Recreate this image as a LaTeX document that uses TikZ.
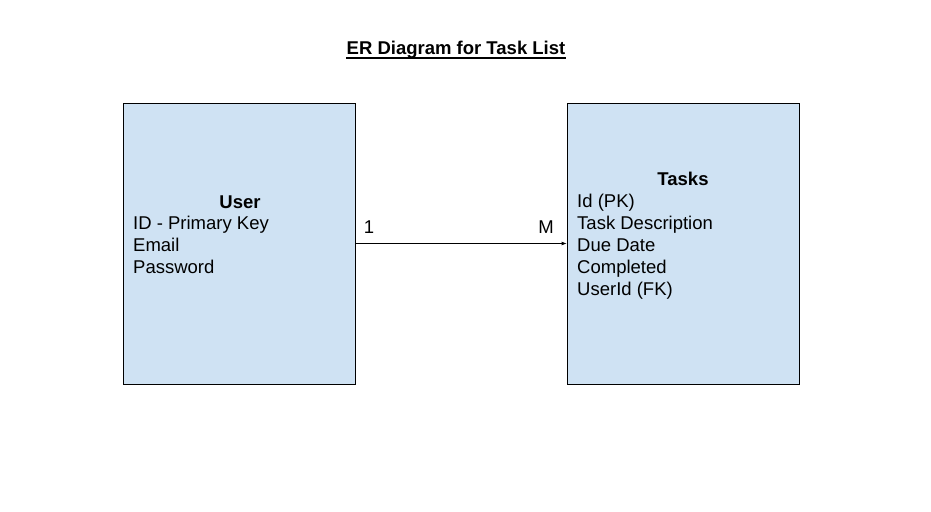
\documentclass[tikz,border=0pt]{standalone}
\usepackage{fontspec}
\setmainfont{Liberation Sans}
\usepackage{tikz}
\usetikzlibrary{arrows.meta,positioning}
\definecolor{entityblue}{HTML}{CFE2F3}

\tikzset{
  entity/.style={draw=black, fill=entityblue, line width=0.8pt,
                 minimum width=232pt, minimum height=281pt, inner sep=0pt},
  attrs/.style={align=left, inner sep=0pt, anchor=north west,
                font=\fontsize{18.5}{22}\selectfont},
  heading/.style={inner sep=0pt, anchor=base, font=\fontsize{18.5}{22}\selectfont\bfseries},
  card/.style={inner sep=0pt, anchor=base, font=\fontsize{18.5}{22}\selectfont}
}

\begin{document}
\begin{tikzpicture}[x=1pt, y=-1pt]
  \useasboundingbox (0,0) rectangle (931,511);
  \node[heading] (title) at (456,55) {ER Diagram for Task List};
  \draw[line width=1.2pt] ([yshift=-3pt]title.base west) -- ([yshift=-3pt]title.base east);

  % entities
  \node[entity] (user) at (239,243.5) {};
  \node[entity] (tasks) at (683,243.5) {};

  \node[heading] (userhead) at (240,208) {User};
  \node[attrs] (userattrs) at (133,216)
    {ID - Primary Key\\Email\\Password};

  \node[heading] (taskshead) at (683,185) {Tasks};
  \node[attrs] (tasksattrs) at (577,194)
    {Id (PK)\\Task Description\\Due Date\\Completed\\UserId (FK)};

  % relationship
  \draw[-{Latex[length=5pt,width=4pt]}, line width=0.8pt] (user.east) -- (tasks.west);
  \node[card] (one) at (369,233) {1};
  \node[card] (many) at (546,233) {M};
\end{tikzpicture}
\end{document}
